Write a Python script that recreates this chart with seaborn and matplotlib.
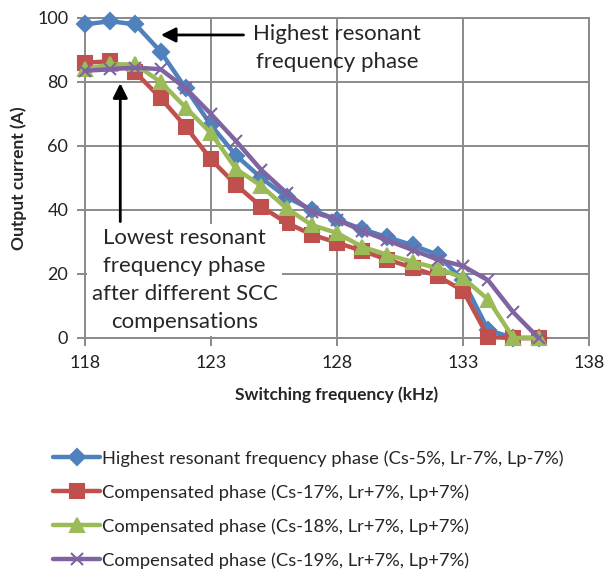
import matplotlib
matplotlib.use("Agg")
import matplotlib.pyplot as plt
import seaborn as sns
import pandas as pd

sns.set_theme(style="white")
plt.rcParams['font.family'] = ['Lato', 'DejaVu Sans']

freq = [118, 119, 120, 121, 122, 123, 124, 125, 126, 127, 128, 129, 130, 131, 132, 133, 134, 135, 136]
highest = [98, 99, 98, 89.5, 78, 66.5, 57, 50, 44, 40, 37, 34, 31.5, 29, 26, 18, 2.5, 0, 0]
comp17 = [86, 86.5, 83, 75, 66, 55.8, 47.8, 41, 36, 32.3, 29.8, 27.2, 24.5, 22, 19.3, 14.8, 0.3, 0, 0]
comp18 = [84, 85.5, 85.5, 80, 72, 64, 52.8, 47.5, 40.5, 35.3, 32.8, 28.5, 26, 23.8, 21.8, 18.8, 12, 0, 0]
comp19 = [83.5, 84, 84.5, 84, 78, 70, 61.5, 52.5, 45.3, 39.5, 37, 33.5, 30.5, 27.5, 24.5, 22.5, 18, 8, 0]

labels = [
    "Highest resonant frequency phase (Cs-5%, Lr-7%, Lp-7%)",
    "Compensated phase (Cs-17%, Lr+7%, Lp+7%)",
    "Compensated phase (Cs-18%, Lr+7%, Lp+7%)",
    "Compensated phase (Cs-19%, Lr+7%, Lp+7%)",
]
series = [highest, comp17, comp18, comp19]
colors = ["#4F81BD", "#C0504D", "#9BBB59", "#8064A2"]
markers = ["D", "s", "^", "x"]
msizes = [8, 10, 10, 9]

fig = plt.figure(figsize=(6.08, 5.78), dpi=100)
ax = fig.add_axes([85/608, 1-338/578, 504/608, 320/578])

for lab, vals, c, m, ms in zip(labels, series, colors, markers, msizes):
    df = pd.DataFrame({"f": freq, "v": vals})
    sns.lineplot(data=df, x="f", y="v", ax=ax, color=c, linewidth=3.2,
                 marker=m, markersize=ms, markeredgecolor=c, markerfacecolor=c,
                 markeredgewidth=1.5, label=lab, legend=False, clip_on=False, zorder=3)

ax.set_xlim(118, 138)
ax.set_ylim(0, 100)
ax.set_xticks([118, 123, 128, 133, 138])
ax.set_yticks([0, 20, 40, 60, 80, 100])
ax.grid(True, color="#8a8a8a", linewidth=1.4)
ax.set_axisbelow(True)
for s in ax.spines.values():
    s.set_color("#8a8a8a")
    s.set_linewidth(1.4)
ax.tick_params(axis="both", which="both", direction="out", length=6, width=1.4,
               color="#8a8a8a", labelsize=13, labelcolor="#222222", pad=6,
               bottom=True, left=True)
ax.set_xlabel("Switching frequency (kHz)", fontsize=12.5, fontweight="bold", labelpad=11)
ax.set_ylabel("Output current (A)", fontsize=12.5, fontweight="bold", labelpad=7)

# annotations
ax.annotate("", xy=(120.9, 94.7), xytext=(124.4, 94.7),
            arrowprops=dict(arrowstyle="-|>", color="black", lw=2, mutation_scale=22), zorder=5)
ax.text(128.0, 90.6, "Highest resonant\nfrequency phase", ha="center", va="center",
        fontsize=16, linespacing=1.5, zorder=5)
ax.text(121.95, 18.1, "Lowest resonant\nfrequency phase\nafter different SCC\ncompensations",
        ha="center", va="center", fontsize=16, linespacing=1.5, zorder=4,
        bbox=dict(facecolor="white", edgecolor="none", pad=3))
ax.annotate("", xy=(119.4, 80.5), xytext=(119.4, 35.5),
            arrowprops=dict(arrowstyle="-|>", color="black", lw=2, mutation_scale=22), zorder=5)

handles, labs = ax.get_legend_handles_labels()
fig.legend(handles, labs, loc="upper left", bbox_to_anchor=(46/608, 1-443/578),
           frameon=False, fontsize=13.2, handlelength=2.55, handletextpad=0.1,
           labelspacing=0.95, borderaxespad=0)

fig.savefig("out.png", dpi=100)
